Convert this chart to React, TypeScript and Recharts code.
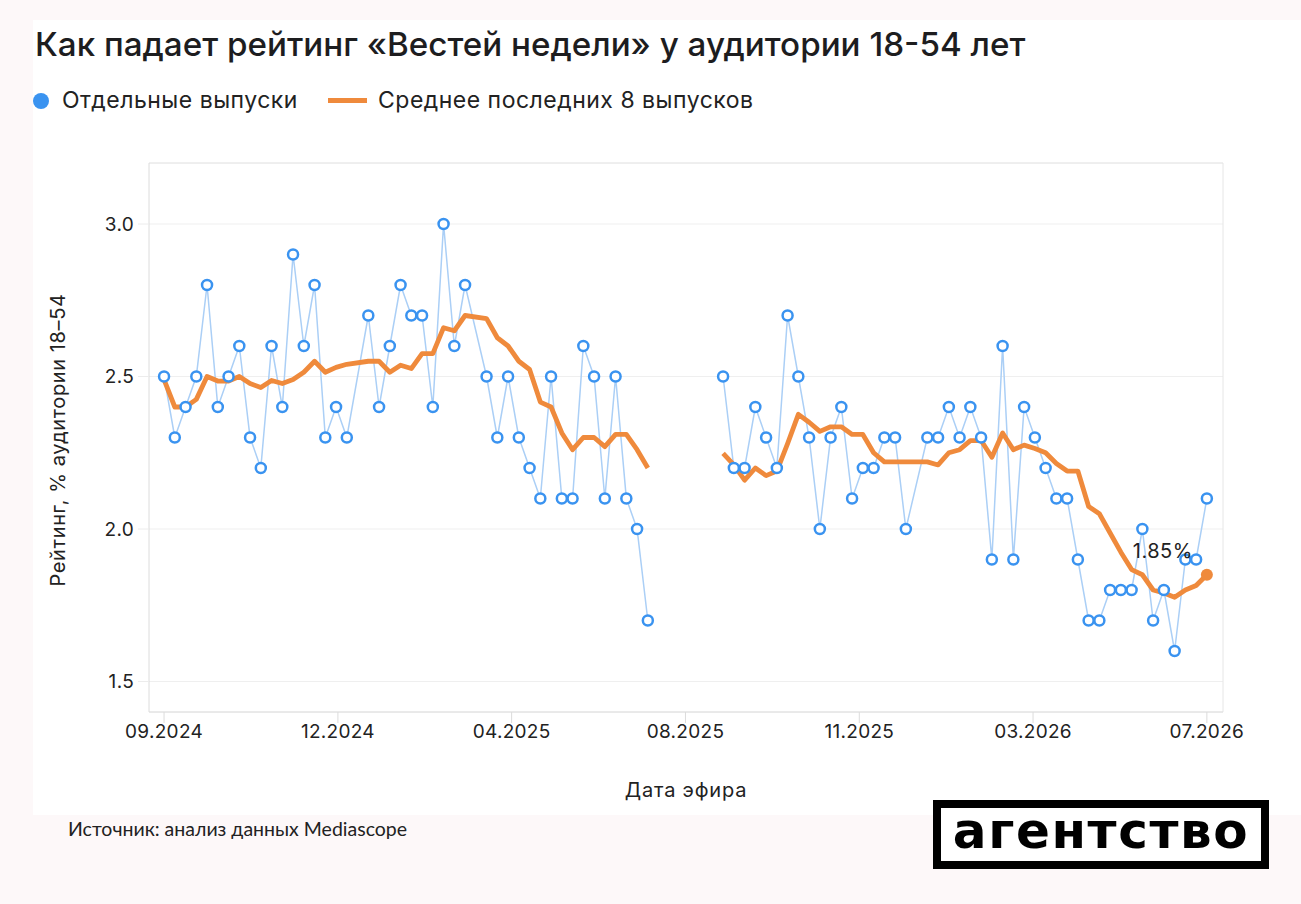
import { LineChart, Line, XAxis, YAxis, CartesianGrid, ReferenceLine } from 'recharts';

// episode index in weeks from the first broadcast (gaps = no episode that week)
const episodeWeek = [
  0, 1, 2, 3, 4, 5, 6, 7, 8, 9, 10, 11, 12, 13, 14, 15, 16, 17,
  19, 20, 21, 22, 23, 24, 25, 26, 27, 28,
  30, 31, 32, 33, 34, 35, 36, 37, 38, 39, 40, 41, 42, 43, 44, 45,
  48, // summer break
  52, 53, 54, 55, 56, 57, 58, 59, 60, 61, 62, 63, 64, 65, 66, 67, 68, 69,
  71, 72, 73, 74, 75, 76, 77, 78, 79, 80, 81, 82, 83, 84, 85, 86, 87, 88, 89, 90, 91, 92, 93, 94, 95, 96, 97,
];

const episodeRating: (number | null)[] = [
  2.5, 2.3, 2.4, 2.5, 2.8, 2.4, 2.5, 2.6, 2.3, 2.2, 2.6, 2.4, 2.9, 2.6, 2.8, 2.3, 2.4, 2.3,
  2.7, 2.4, 2.6, 2.8, 2.7, 2.7, 2.4, 3.0, 2.6, 2.8,
  2.5, 2.3, 2.5, 2.3, 2.2, 2.1, 2.5, 2.1, 2.1, 2.6, 2.5, 2.1, 2.5, 2.1, 2.0, 1.7,
  null,
  2.5, 2.2, 2.2, 2.4, 2.3, 2.2, 2.7, 2.5, 2.3, 2.0, 2.3, 2.4, 2.1, 2.2, 2.2, 2.3, 2.3, 2.0,
  2.3, 2.3, 2.4, 2.3, 2.4, 2.3, 1.9, 2.6, 1.9, 2.4, 2.3, 2.2, 2.1, 2.1, 1.9, 1.7, 1.7, 1.8, 1.8, 1.8, 2.0, 1.7, 1.8, 1.6, 1.9, 1.9, 2.1,
];

const rollingAvg8: (number | null)[] = [
  2.49, 2.40, 2.40, 2.425, 2.50, 2.485, 2.485, 2.50, 2.477, 2.464, 2.487, 2.477, 2.49, 2.514, 2.55, 2.514, 2.53, 2.54,
  2.55, 2.55, 2.514, 2.537, 2.526, 2.575, 2.575, 2.66, 2.65, 2.70,
  2.69, 2.627, 2.60, 2.55, 2.523, 2.416, 2.40, 2.315, 2.26, 2.30, 2.30, 2.27, 2.31, 2.31, 2.26, 2.20,
  null,
  2.248, 2.21, 2.16, 2.20, 2.175, 2.19, 2.28, 2.376, 2.35, 2.32, 2.335, 2.335, 2.31, 2.31, 2.25, 2.22, 2.22, 2.22,
  2.22, 2.21, 2.25, 2.26, 2.29, 2.29, 2.235, 2.315, 2.26, 2.275, 2.264, 2.25, 2.215, 2.19, 2.19, 2.074, 2.05, 1.987, 1.924, 1.867, 1.85, 1.80, 1.79, 1.776, 1.80, 1.815, 1.85,
];

const xTicks = [0, 16.17, 32.33, 48.5, 64.67, 80.83, 97];
const xTickLabels = ['09.2024', '12.2024', '04.2025', '08.2025', '11.2025', '03.2026', '07.2026'];
const yTicks = [1.5, 2.0, 2.5, 3.0];

const data = episodeWeek.map((w, i) => ({ week: w, rating: episodeRating[i], avg: rollingAvg8[i] }));
const lastIdx = data.length - 1;

const BLUE = '#3a93f0';
const BLUE_LINE = '#abcff6';
const ORANGE = '#ef8a3c';
const FONT = 'Inter, "Liberation Sans", sans-serif';
const tickStyle = { fontSize: 19, fill: '#222', fontFamily: FONT, letterSpacing: '0.3px' };

const LastDot = (props: any) => {
  const { cx, cy, index } = props;
  if (index !== lastIdx || cx == null) return <g key={`d${index}`} />;
  return <circle key={`d${index}`} cx={cx} cy={cy} r={6} fill={ORANGE} />;
};

const LastLabel = (props: any) => {
  const { x, y, index, value } = props;
  if (index !== lastIdx || value == null) return null;
  return (
    <text x={x - 44} y={y - 17} textAnchor="middle" fontSize={20} fill="#222" fontFamily={FONT} letterSpacing="0.5px">
      {`${value.toFixed(2)}%`}
    </text>
  );
};

export default function App() {
  return (
    <div style={{ position: 'absolute', left: 0, top: 0, width: 1301, height: 904, background: '#fdf8f9', overflow: 'hidden', fontFamily: FONT, color: '#1d1d1f' }}>
      <div style={{ position: 'absolute', left: 33, top: 20, width: 1268, height: 795, background: '#fff' }} />

      <div style={{ position: 'absolute', left: 35, top: 28, fontSize: 33.2, lineHeight: 1, fontWeight: 500, whiteSpace: 'nowrap' }}>
        Как падает рейтинг «Вестей недели» у аудитории 18-54 лет
      </div>

      {/* legend */}
      <div style={{ position: 'absolute', left: 33, top: 93, width: 16, height: 16, borderRadius: 8, background: BLUE }} />
      <div style={{ position: 'absolute', left: 62, top: 89, fontSize: 23, lineHeight: 1, whiteSpace: 'nowrap', color: '#222', letterSpacing: '0.5px' }}>Отдельные выпуски</div>
      <div style={{ position: 'absolute', left: 328, top: 98, width: 39, height: 5, background: ORANGE }} />
      <div style={{ position: 'absolute', left: 378, top: 89, fontSize: 23, lineHeight: 1, whiteSpace: 'nowrap', color: '#222', letterSpacing: '0.5px' }}>Среднее последних 8 выпусков</div>

      <div style={{ position: 'absolute', left: 0, top: 0 }}>
        <LineChart width={1301} height={904} data={data} margin={{ top: 163, right: 78, bottom: 152, left: 49 }}>
          <CartesianGrid horizontal vertical={false} stroke="#efefef" />
          <XAxis
            dataKey="week"
            type="number"
            domain={[-1.4, 98.5]}
            ticks={xTicks}
            tickFormatter={(v: number) => xTickLabels[xTicks.indexOf(v)]}
            height={40}
            tickSize={11}
            tick={tickStyle}
            stroke="#dcdcdc"
            allowDataOverflow
          />
          <YAxis
            type="number"
            domain={[1.4, 3.2]}
            ticks={yTicks}
            tickFormatter={(v: number) => v.toFixed(1)}
            width={100}
            tickSize={11}
            tickMargin={4}
            tick={tickStyle}
            stroke="#dcdcdc"
            tickLine={{ stroke: '#ececec' }}
            allowDataOverflow
          />
          <ReferenceLine y={3.2} stroke="#e6e6e6" />
          <ReferenceLine x={98.5} stroke="#e6e6e6" />
          <Line dataKey="rating" stroke={BLUE_LINE} strokeWidth={1.5} dot={false} activeDot={false} isAnimationActive={false} />
          <Line dataKey="avg" stroke={ORANGE} strokeWidth={4.8} strokeLinejoin="round" dot={LastDot} activeDot={false} label={LastLabel} isAnimationActive={false} />
          <Line dataKey="rating" stroke="none" dot={{ r: 5, stroke: BLUE, strokeWidth: 2.5, fill: '#fff' }} activeDot={false} isAnimationActive={false} />
        </LineChart>
      </div>

      <div style={{ position: 'absolute', left: 58, top: 440, transform: 'translate(-50%, -50%) rotate(-90deg)', fontSize: 20, letterSpacing: '0.6px', whiteSpace: 'nowrap', color: '#222' }}>
        Рейтинг, % аудитории 18–54
      </div>
      <div style={{ position: 'absolute', left: 586, top: 778, width: 200, textAlign: 'center', fontSize: 20, letterSpacing: '0.8px', color: '#222' }}>Дата эфира</div>

      <div style={{ position: 'absolute', left: 68, top: 819, fontSize: 19.5, lineHeight: 1, fontFamily: 'Lato, sans-serif', color: '#222', whiteSpace: 'nowrap' }}>
        Источник: анализ данных Mediascope
      </div>

      <div style={{ position: 'absolute', left: 933, top: 800, width: 336, height: 69, border: '8px solid #000', boxSizing: 'border-box', background: '#fff', display: 'flex', alignItems: 'center', justifyContent: 'center' }}>
        <span style={{ fontFamily: '"DejaVu Sans", sans-serif', fontWeight: 700, fontSize: 50, lineHeight: 1, letterSpacing: '1.6px', color: '#000', marginTop: -8 }}>агентство</span>
      </div>
    </div>
  );
}
